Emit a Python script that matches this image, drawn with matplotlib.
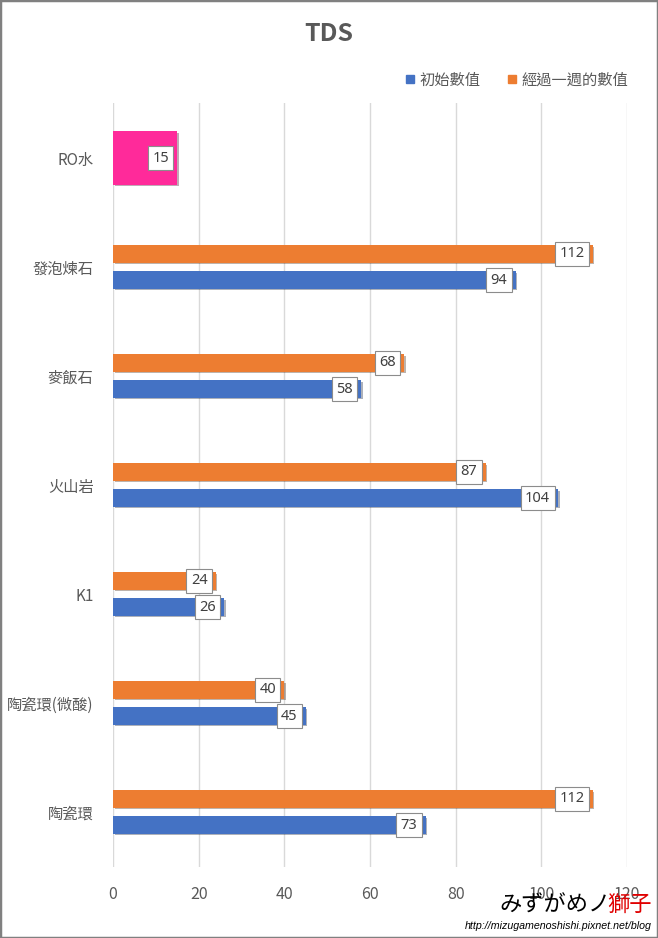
import numpy as np
import matplotlib
matplotlib.use('Agg')
from matplotlib import pyplot as plt
from matplotlib import patheffects
from matplotlib.lines import Line2D
from matplotlib.patches import Rectangle

plt.rcParams['font.family'] = ['Noto Sans CJK TC', 'DejaVu Sans']

# data, top to bottom
categories = ['RO水', '發泡煉石', '麥飯石', '火山岩', 'K1', '陶瓷環(微酸)', '陶瓷環']
initial = [None, 94, 58, 104, 26, 45, 73]
after_week = [None, 112, 68, 87, 24, 40, 112]
ro_value = 15
xticks = [0, 20, 40, 60, 80, 100, 120]

blue = '#4472C4'
orange = '#ED7D31'
pink = '#FF2A9A'
gray_text = '#595959'

fig = plt.figure(figsize=(6.58, 9.38), dpi=100)
ax = fig.add_axes([113 / 658, 1 - 866.5 / 938, (627 - 113) / 658, (866.5 - 103.5) / 938])

shadow = [patheffects.SimplePatchShadow(offset=(1.2, -1.2), alpha=0.35), patheffects.Normal()]

ypos = np.arange(len(categories))
bar_h = 0.16
off = 0.12


def label(x, y):
    ax.annotate(str(x), (x, y), xytext=(-6, 0), textcoords='offset points',
                ha='right', va='center', fontsize=10.5, color='#404040',
                family=['Noto Sans', 'DejaVu Sans'],
                bbox=dict(boxstyle='square,pad=0.3', fc='white', ec='#8c8c8c', lw=0.8),
                zorder=5)


for i, cat in enumerate(categories):
    if initial[i] is None:
        continue
    b1 = ax.barh(ypos[i] - off, after_week[i], height=bar_h, color=orange, zorder=3)
    b2 = ax.barh(ypos[i] + off, initial[i], height=bar_h, color=blue, zorder=3)
    for b in list(b1) + list(b2):
        b.set_path_effects(shadow)
    label(after_week[i], ypos[i] - off)
    label(initial[i], ypos[i] + off)

rb = ax.barh(ypos[0], ro_value, height=0.49, color=pink, zorder=3)
for b in rb:
    b.set_path_effects(shadow)
label(ro_value, ypos[0])

ax.set_xlim(0, 120)
ax.set_ylim(len(categories) - 0.5, -0.5)
ax.set_xticks(xticks)
ax.set_yticks(ypos)
ax.set_yticklabels(categories)
ax.grid(axis='x', color='#D9D9D9', lw=1, zorder=0)
ax.set_axisbelow(True)
for s in ax.spines.values():
    s.set_visible(False)
ax.tick_params(axis='both', length=0, colors=gray_text, labelsize=11.5)
ax.tick_params(axis='y', pad=14, labelsize=11)
ax.tick_params(axis='x', pad=14)

fig.text(0.5, 1 - 34 / 938, 'TDS', ha='center', va='center', fontsize=18,
         fontweight='bold', color=gray_text)

handles = [Line2D([], [], marker='s', ls='', color=blue, markersize=6),
           Line2D([], [], marker='s', ls='', color=orange, markersize=6)]
fig.legend(handles, ['初始數值', '經過一週的數值'], loc='center right',
           bbox_to_anchor=(642 / 658, 1 - 80 / 938), ncol=2, frameon=False,
           fontsize=11, labelcolor=gray_text, handletextpad=0.2, columnspacing=1.7,
           handlelength=0.8)

# watermark
fig.text(611 / 658, 1 - 905 / 938, 'みずがめノ', ha='right', va='center', fontsize=16,
         color='black', family=['Noto Sans CJK JP', 'DejaVu Sans'], fontstyle='italic',
         zorder=10)
fig.text(652 / 658, 1 - 905 / 938, '獅子', ha='right', va='center', fontsize=16,
         color='#E00000', family=['Noto Sans CJK JP', 'DejaVu Sans'], zorder=10)
fig.text(652 / 658, 1 - 926 / 938, 'http://mizugamenoshishi.pixnet.net/blog', ha='right',
         va='center', fontsize=7.7, fontstyle='italic', color='black',
         family=['Liberation Sans', 'DejaVu Sans'], zorder=10)

fig.patches.append(Rectangle((0, 0), 1, 1, transform=fig.transFigure, fill=False,
                             edgecolor='#808080', lw=2.5))

fig.savefig('out.png', dpi=100)
